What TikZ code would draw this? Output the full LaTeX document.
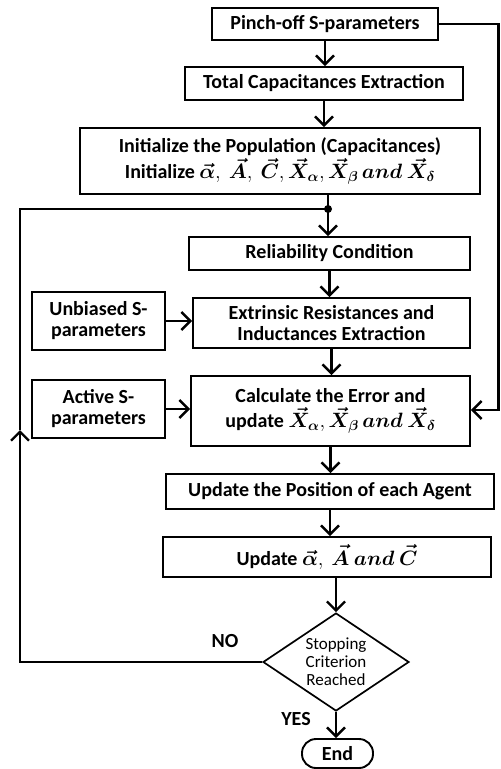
\documentclass[tikz,border=0pt]{standalone}
\usepackage{amsmath,bm}
\usepackage{fontspec}
\setmainfont{Carlito}
\usetikzlibrary{shapes.geometric,arrows.meta}
\begin{document}
\begin{tikzpicture}[x=1pt,y=1pt,
 box/.style={draw,line width=1.9pt,inner sep=2pt,align=center,font=\fontsize{20}{21}\selectfont\bfseries},
 arr/.style={line width=2.6pt,-{Straight Barb[length=9pt,width=18pt,line width=2.4pt]}},
 ln/.style={line width=2.6pt},
 lbl/.style={font=\fontsize{20}{22}\selectfont\bfseries}
]
\useasboundingbox (0,0) rectangle (501,-769);

\node[box,minimum width=226pt,minimum height=32pt] (pinch) at (325,-24) {Pinch-off S-parameters};
\node[box,minimum width=278pt,minimum height=33pt] (total) at (324,-83.5) {Total Capacitances Extraction};
\node[box,minimum width=400pt,minimum height=66pt] (init) at (280,-161) {Initialize the Population (Capacitances)\\[2pt]
 Initialize $\bm{\vec{\alpha}},\ \bm{\vec{A}},\ \bm{\vec{C}},\bm{\vec{X}_{\alpha}},\bm{\vec{X}_{\beta}}\,\bm{and}\ \bm{\vec{X}_{\delta}}$};
\node[box,minimum width=281pt,minimum height=33pt] (rel) at (329.5,-253.5) {Reliability Condition};
\node[box,minimum width=133pt,minimum height=58pt] (unb) at (98.5,-321) {Unbiased S-\\parameters};
\node[box,minimum width=277pt,minimum height=50pt] (ext) at (331.5,-323) {Extrinsic Resistances and\\Inductances Extraction};
\node[box,minimum width=133pt,minimum height=58pt] (act) at (98.5,-409) {Active S-\\parameters};
\node[box,minimum width=279pt,minimum height=70pt] (calc) at (330.5,-411) {Calculate the Error and\\[4pt]
 update $\bm{\vec{X}_{\alpha}},\bm{\vec{X}_{\beta}}\,\bm{and}\ \bm{\vec{X}_{\delta}}$};
\node[box,minimum width=328pt,minimum height=35pt] (upos) at (330,-491.5) {Update the Position of each Agent};
\node[box,minimum width=328pt,minimum height=40pt] (upd) at (327,-557) {Update $\bm{\vec{\alpha}},\ \bm{\vec{A}}\ \bm{and}\ \bm{\vec{C}}$};
\node[draw,diamond,aspect=1.49,inner sep=0pt,minimum width=146pt,minimum height=98pt,line width=1.7pt,align=center,font=\fontsize{17}{18}\selectfont] (dia) at (336,-662) {Stopping\\Criterion\\Reached};
\node[draw,line width=1.9pt,rounded corners=14pt,minimum width=71pt,minimum height=29pt,inner sep=1pt,font=\fontsize{20}{22}\selectfont\bfseries] (stop) at (337.5,-753.5) {End};

\node[lbl] (no) at (225,-641) {NO};
\node[lbl] (yes) at (296,-719) {YES};

\coordinate (j) at (328,-209);
\coordinate (lt) at (20,-209);
\coordinate (lm) at (20,-430);
\coordinate (lc) at (20,-662);
\coordinate (rt) at (498.5,-24);
\coordinate (rb) at (498.5,-410);

\draw[arr] (pinch.south) -- (pinch.south |- total.north);
\draw[arr] (total.south) -- (total.south |- init.north);
\draw[ln] (j |- init.south) -- (j);
\draw[arr] (j) -- (j |- rel.north);
\fill (j) circle (4pt);
\draw[arr] (rel.south) -- (rel.south |- ext.north);
\draw[arr] (ext.south) -- (ext.south |- calc.north);
\draw[arr] (unb.east) -- (unb.east -| ext.west);
\draw[arr] (act.east) -- (act.east -| calc.west);
\draw[arr] (calc.south) -- (calc.south |- upos.north);
\draw[arr] (upos.south) -- (upos.south |- upd.north);
\draw[arr] (dia.north |- upd.south) -- (dia.north);
\draw[arr] (dia.south) -- (dia.south |- stop.north);
\draw[arr] (dia.west) -- (lc) -- (lm);
\draw[ln] (lm) -- (lt) -- (j);
\draw[arr] (pinch.east) -- (rt) -- (rb) -- (rb -| calc.east);
\end{tikzpicture}
\end{document}
